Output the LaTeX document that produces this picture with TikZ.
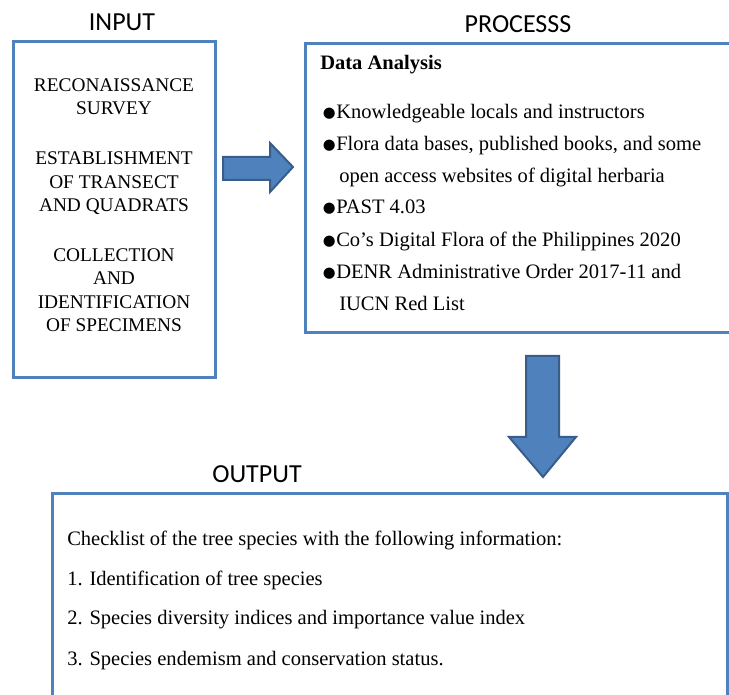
\documentclass[tikz,border=0pt]{standalone}
\usepackage{fontspec}
\setmainfont{Liberation Serif}
\newfontfamily\headfont{Carlito}
\newfontfamily\dotfont{DejaVu Sans}
\definecolor{boxblue}{HTML}{4F81BD}
\definecolor{arrowedge}{HTML}{385D8A}

\begin{document}
\begin{tikzpicture}[x=0.75pt, y=-0.75pt,
    frame/.style={draw=boxblue, line width=2.25pt},
    heading/.style={font=\headfont\fontsize{19.5}{22}\selectfont, inner sep=0pt, anchor=base},
    body/.style={font=\fontsize{14.5}{17}\selectfont, inner sep=0pt},
    listtext/.style={font=\fontsize{15.4}{18}\selectfont, inner sep=0pt, anchor=base west},
    blockarrow/.style={fill=boxblue, draw=arrowedge, line width=1.5pt, line join=miter}]
    \clip (0,0) rectangle (729,695);

    % corners of the three boxes
    \coordinate (I1) at (13, 42);
    \coordinate (I2) at (215, 378);
    \coordinate (P1) at (305, 44);
    \coordinate (P2) at (740, 333);
    \coordinate (O1) at (52, 494);
    \coordinate (O2) at (727, 710);

    \draw[frame] (I1) rectangle (I2); % input
    \draw[frame] (P1) rectangle (P2); % process
    \draw[frame] (O1) rectangle (O2); % output

    % headings
    \node[heading] (input) at (122, 31) {INPUT};
    \node[heading] (process) at (518, 33) {PROCESSS};
    \node[heading] (output) at (257, 483) {OUTPUT};

    % input steps
    \foreach \y/\txt [count=\i] in {85/RECONAISSANCE, 108/SURVEY,
        158/ESTABLISHMENT, 182/OF TRANSECT, 205/AND QUADRATS,
        255/COLLECTION, 278/AND, 302/IDENTIFICATION, 325/OF SPECIMENS}
        \node[body, anchor=base] (in\i) at (114, \y+7) {\txt};

    % process list
    \node[listtext, font=\bfseries\fontsize{15.4}{18}\selectfont] (analysis) at (320, 70) {Data Analysis};
    \foreach \y/\txt [count=\i] in {112/Knowledgeable locals and instructors,
        144/{Flora data bases, published books, and some},
        207/PAST 4.03,
        240/Co’s Digital Flora of the Philippines 2020,
        272/DENR Administrative Order 2017-11 and} {
        \node[body, anchor=base east, font=\dotfont\fontsize{11}{13}\selectfont] (dot\i) at (336, \y+6) {●};
        \node[listtext] (pr\i) at (336, \y+7) {\txt};
    }
    \node[listtext] (pr2b) at (339, 183) {open access websites of digital herbaria};
    \node[listtext] (pr5b) at (339, 311) {IUCN Red List};

    % output list
    \foreach \y/\txt [count=\i] in {538/Checklist of the tree species with the following information:,
        578/1. Identification of tree species,
        617/2. Species diversity indices and importance value index,
        658/3. Species endemism and conservation status.}
        \node[listtext] (out\i) at (67, \y+7) {\txt};

    % block arrows
    \draw[blockarrow] (223, 157) -- (270, 157) -- (270, 143) -- (293, 167)
        -- (270, 192) -- (270, 180) -- (223, 180) -- cycle;
    \draw[blockarrow] (526, 356) -- (559, 356) -- (559, 437) -- (576, 437)
        -- (543, 477) -- (509, 437) -- (526, 437) -- cycle;
\end{tikzpicture}
\end{document}
